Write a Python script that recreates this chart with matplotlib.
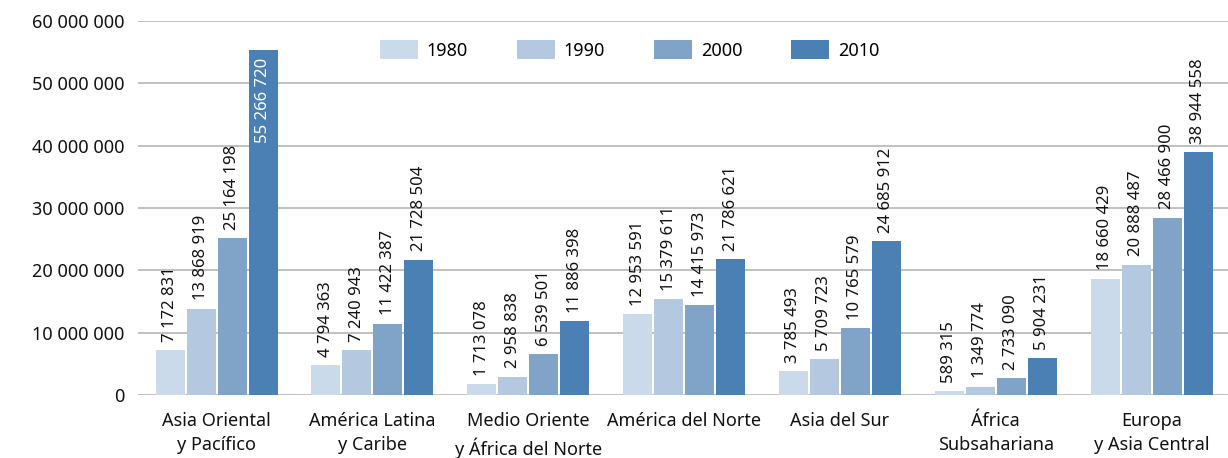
import matplotlib
matplotlib.use("Agg")
import matplotlib.pyplot as plt
import numpy as np
from matplotlib.ticker import FuncFormatter

categories = ["Asia Oriental\ny Pacífico", "América Latina\ny Caribe",
              "Medio Oriente\ny África del Norte", "América del Norte",
              "Asia del Sur", "África\nSubsahariana", "Europa\ny Asia Central"]
years = ["1980", "1990", "2000", "2010"]
v1980 = [7172831, 4794363, 1713078, 12953591, 3785493, 589315, 18660429]
v1990 = [13868919, 7240943, 2958838, 15379611, 5709723, 1349774, 20888487]
v2000 = [25164198, 11422387, 6539501, 14415973, 10765579, 2733090, 28466900]
v2010 = [55266720, 21728504, 11886398, 21786621, 24685912, 5904231, 38944558]
series = [v1980, v1990, v2000, v2010]
colors = ["#CBDAEA", "#B4C9DF", "#7FA4C8", "#4A80B4"]

plt.rcParams['font.family'] = ['Noto Sans', 'DejaVu Sans']

fig = plt.figure(figsize=(12.28, 4.58), dpi=100)
ax = fig.add_axes([0.1124, 0.1376, 0.8876, 0.8166])

def fmt(v):
    return f"{int(v):,}".replace(",", " ")

x = np.arange(len(categories))
step = 0.199
width = 0.186
for i, (vals, col, yr) in enumerate(zip(series, colors, years)):
    pos = x + (i - 1.5) * step
    ax.bar(pos, vals, width=width, color=col, label=yr, zorder=3)
    for p, v in zip(pos, vals):
        if v > 50000000:
            ax.annotate(fmt(v), (p, v), xytext=(0, -5), textcoords='offset points',
                        rotation=90, ha='center', va='top', color='white',
                        fontsize=12, zorder=4)
        else:
            ax.annotate(fmt(v), (p, v), xytext=(0, 6), textcoords='offset points',
                        rotation=90, ha='center', va='bottom', color='#111111',
                        fontsize=12, zorder=4)

ax.set_ylim(0, 60000000)
ax.set_xlim(-0.504, 6.49)
ax.set_yticks(np.arange(0, 60000001, 10000000))
ax.yaxis.set_major_formatter(FuncFormatter(lambda v, p: fmt(v)))
ax.grid(axis='y', color='#BBBBBB', linewidth=1.3, zorder=0)
ax.set_axisbelow(True)
for s in ax.spines.values():
    s.set_visible(False)
ax.tick_params(axis='y', length=0, pad=10, labelsize=13, labelcolor='#111111')
ax.tick_params(axis='x', length=0, pad=12, labelsize=13, labelcolor='#111111')
ax.set_xticks(x)
ax.set_xticklabels(categories, linespacing=1.45)

leg = ax.legend(loc='center', bbox_to_anchor=(0.451, 0.922), ncol=4,
                frameon=False, fontsize=13, handlelength=2.1, handleheight=1.2,
                columnspacing=2.7, handletextpad=0.5)

fig.savefig("out.png", dpi=100)
